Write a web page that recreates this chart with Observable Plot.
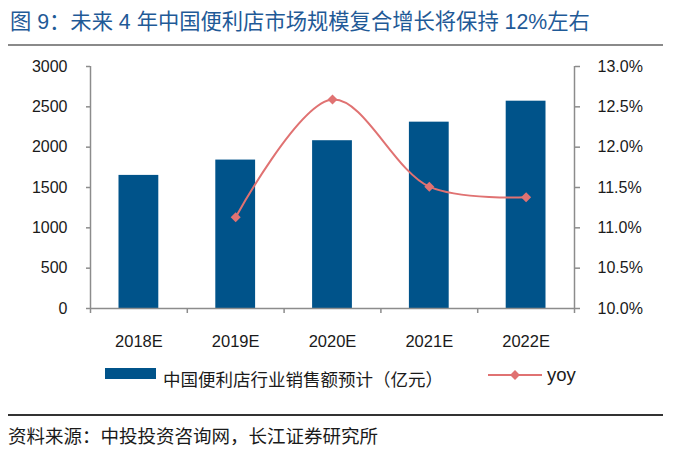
<!DOCTYPE html>
<html><head><meta charset="utf-8">
<script src="https://cdn.jsdelivr.net/npm/d3@7"></script>
<script src="https://cdn.jsdelivr.net/npm/@observablehq/plot@0.6"></script>
<style>
body{margin:0;background:#fff;}
#wrap{position:relative;width:700px;height:456px;font-family:"Liberation Sans","Noto Sans CJK SC",sans-serif;color:#1a1a1a;overflow:hidden;background:#fff}
#title{position:absolute;left:10px;top:9px;font-size:21.3px;line-height:26px;color:#1f5a97;white-space:nowrap}
.rule{position:absolute;left:8px;width:655px}
#r1{top:44px;height:2px;background:#8a8a8a}
#r2{top:414px;height:1.5px;background:#333}
#chart{position:absolute;left:0;top:50px}
.sw{position:absolute}
.lt{position:absolute;font-size:17.5px;line-height:20px;white-space:nowrap;color:#1a1a1a}
#lt2{font-size:18.5px}
#source{position:absolute;left:8px;top:426px;font-size:18.5px;line-height:22px;white-space:nowrap;color:#1a1a1a}
</style></head><body>
<div id="wrap">
  <div id="title">图 9：未来 4 年中国便利店市场规模复合增长将保持 12%左右</div>
  <div class="rule" id="r1"></div>
  <div id="chart"></div>
  <div class="sw" id="sw1" style="left:105px;top:368px;width:51px;height:11px;"></div>
  <div class="lt" id="lt1" style="left:163px;top:370px;"></div>
  <svg class="sw" id="sw2" style="left:488px;top:368px" width="54" height="14"></svg>
  <div class="lt" id="lt2" style="left:547px;top:365px;"></div>
  <div class="rule" id="r2"></div>
  <div id="source">资料来源：中投投资咨询网，长江证券研究所</div>
</div>
<script>
const categories = ["2018E", "2019E", "2020E", "2021E", "2022E"];
const sales = [1650, 1840, 2080, 2310, 2570];
const yoy = [null, 11.13, 12.59, 11.51, 11.38];
const leftTicks = [0, 500, 1000, 1500, 2000, 2500, 3000];
const rightTicks = [10.0, 10.5, 11.0, 11.5, 12.0, 12.5, 13.0];
const seriesNames = ["中国便利店行业销售额预计（亿元）", "yoy"];

const barColor = "#00538a";
const lineColor = "#e07272";
const axisColor = "#8c8c8c";
const textColor = "#1a1a1a";

// right axis (yoy, %) mapped onto the left scale
const yoyMin = rightTicks[0], yoyMax = rightTicks[rightTicks.length - 1];
const leftMax = leftTicks[leftTicks.length - 1];
const yoyToLeft = v => (v - yoyMin) / (yoyMax - yoyMin) * leftMax;
const leftToYoy = d => yoyMin + d / leftMax * (yoyMax - yoyMin);

const barData = categories.map((c, i) => ({i, c, v: sales[i]}));
const lineData = categories.map((c, i) => ({i, c, v: yoy[i]})).filter(d => d.v != null);

const chart = Plot.plot({
  width: 700,
  height: 300,
  marginTop: 16,
  marginBottom: 42,
  marginLeft: 90,
  marginRight: 126,
  x: {type: "linear", domain: [0, categories.length]},
  y: {type: "linear", domain: [0, leftMax]},
  style: {fontFamily: '"Liberation Sans","Noto Sans CJK SC",sans-serif', fontSize: "16px", color: textColor, background: "transparent"},
  marks: [
    Plot.rectY(barData, {x1: d => d.i, x2: d => d.i + 1, y1: 0, y2: d => d.v, fill: barColor, insetLeft: 28.5, insetRight: 28.5}),
    Plot.ruleY([0], {stroke: axisColor, strokeWidth: 1.5}),
    Plot.ruleX([0, categories.length], {stroke: axisColor, strokeWidth: 1.5}),
    Plot.axisY({anchor: "left", ticks: leftTicks, tickFormat: d => String(d), tickSize: 4, tickPadding: 19, stroke: axisColor, strokeWidth: 1.5, fill: textColor, fontSize: 16, label: null}),
    Plot.axisY({anchor: "right", ticks: rightTicks.map(yoyToLeft), tickFormat: d => leftToYoy(d).toFixed(1) + "%", tickSize: 5, tickPadding: 18, stroke: axisColor, strokeWidth: 1.5, fill: textColor, fontSize: 16, label: null}),
    Plot.axisX({ticks: d3.range(categories.length + 1), tickFormat: () => "", tickSize: 5, stroke: axisColor, strokeWidth: 1.5, label: null}),
    Plot.axisX({ticks: categories.map((_, i) => i + 0.5), tickFormat: d => categories[Math.floor(d)], tickSize: 0, tickPadding: 27, fill: textColor, fontSize: 16.5, label: null}),
    Plot.line(lineData, {x: d => d.i + 0.5, y: d => yoyToLeft(d.v), curve: "catmull-rom", stroke: lineColor, strokeWidth: 2}),
    Plot.dot(lineData, {x: d => d.i + 0.5, y: d => yoyToLeft(d.v), symbol: "square", rotate: 45, r: 4, fill: lineColor, stroke: "none"})
  ]
});
document.getElementById("chart").appendChild(chart);

// legend
document.getElementById("sw1").style.background = barColor;
document.getElementById("lt1").textContent = seriesNames[0];
document.getElementById("lt2").textContent = seriesNames[1];
const sw2 = d3.select("#sw2");
sw2.append("line").attr("x1", 0).attr("x2", 54).attr("y1", 7).attr("y2", 7).attr("stroke", lineColor).attr("stroke-width", 2);
sw2.append("rect").attr("x", 23.5).attr("y", 3.5).attr("width", 7).attr("height", 7).attr("fill", lineColor).attr("transform", "rotate(45 27 7)");
</script>
</body></html>
